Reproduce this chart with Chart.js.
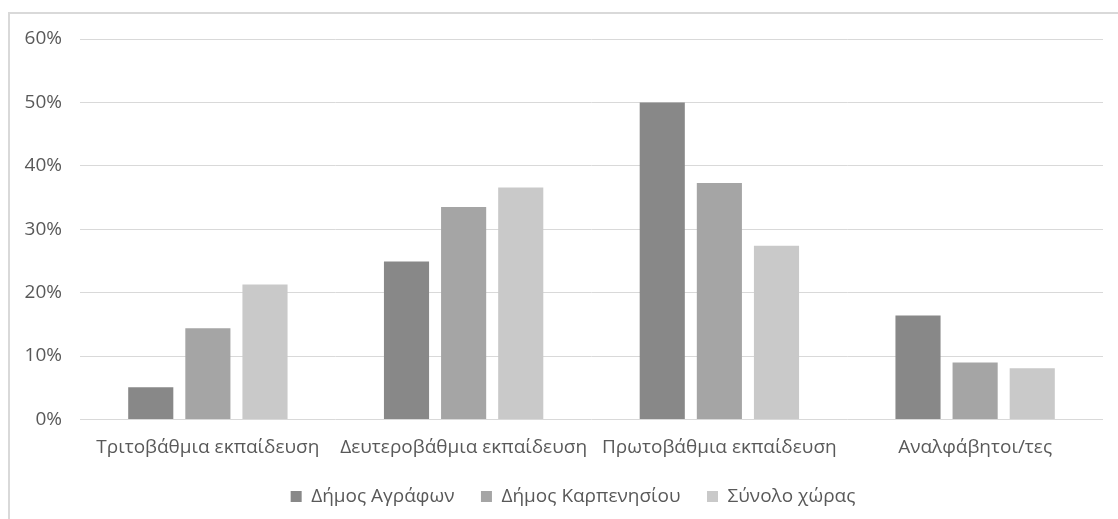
<!DOCTYPE html>
<html>
<head>
<meta charset="utf-8">
<script src="https://cdn.jsdelivr.net/npm/chart.js@4"></script>
<style>
  html, body { margin: 0; padding: 0; background: #fff; overflow: hidden; width: 1118px; height: 519px; }
  #frame { position: absolute; left: 8px; top: 12px; width: 1200px; height: 600px; border: 2px solid #d9d9d9; box-sizing: border-box; }
  #wrap { position: absolute; left: 0; top: 0; width: 1118px; height: 516px; }
</style>
</head>
<body>
<div id="frame"></div>
<div id="wrap"><canvas id="chart"></canvas></div>
<script>
const categories = ['Τριτοβάθμια εκπαίδευση', 'Δευτεροβάθμια εκπαίδευση', 'Πρωτοβάθμια εκπαίδευση', 'Αναλφάβητοι/τες'];
const seriesNames = ['Δήμος Αγράφων', 'Δήμος Καρπενησίου', 'Σύνολο χώρας'];
const agrafa = [5.1, 24.9, 50.0, 16.4];
const karpenisi = [14.4, 33.5, 37.3, 9.0];
const national = [21.3, 36.6, 27.4, 8.1];
const yMax = 60;
const yStep = 10;

const colors = ['#888888', '#a5a5a5', '#c9c9c9'];

Chart.defaults.font.family = "'Open Sans', sans-serif";
Chart.defaults.font.size = 19;
Chart.defaults.color = '#595959';

// legend in the original sits a bit right of the canvas centre
const shiftLegend = {
  id: 'shiftLegend',
  afterLayout(chart) {
    if (chart.legend) chart.legend.left = 43;
  }
};

new Chart(document.getElementById('chart'), {
  type: 'bar',
  data: {
    labels: categories,
    datasets: [agrafa, karpenisi, national].map((vals, i) => ({
      label: seriesNames[i],
      data: vals,
      backgroundColor: colors[i],
      categoryPercentage: 0.67,
      barPercentage: 0.79
    }))
  },
  options: {
    responsive: true,
    maintainAspectRatio: false,
    animation: false,
    layout: { padding: { top: 39, right: 15, bottom: 0, left: 0 } },
    scales: {
      x: {
        grid: { display: false, drawTicks: false },
        border: { display: false },
        ticks: { padding: 17, maxRotation: 0, autoSkip: false },
        afterFit: s => { s.height = 41; }
      },
      y: {
        min: 0,
        max: yMax,
        grid: { color: '#d9d9d9', drawTicks: false },
        border: { display: false },
        ticks: { stepSize: yStep, padding: 18, callback: v => v + '%' },
        afterFit: s => { s.width = 80; }
      }
    },
    plugins: {
      tooltip: { enabled: false },
      legend: {
        position: 'bottom',
        labels: { boxWidth: 11, boxHeight: 11, padding: 26.5 }
      }
    }
  },
  plugins: [shiftLegend]
});
</script>
</body>
</html>
